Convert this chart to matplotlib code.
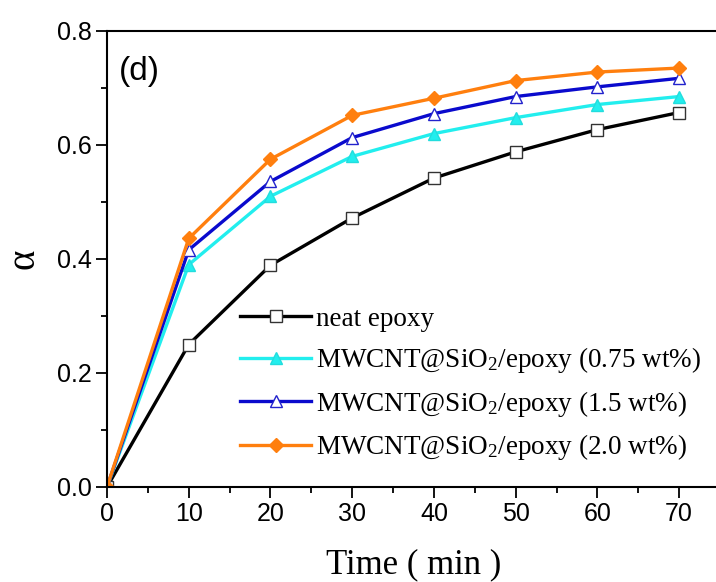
import matplotlib
matplotlib.use("Agg")
import matplotlib.pyplot as plt

plt.rcParams['mathtext.fontset'] = 'custom'
plt.rcParams['mathtext.rm'] = 'Liberation Serif'
plt.rcParams['mathtext.it'] = 'Liberation Serif:italic'

time = [0, 10, 20, 30, 40, 50, 60, 70]
neat = [0.0, 0.250, 0.389, 0.472, 0.542, 0.588, 0.627, 0.657]
w075 = [0.0, 0.390, 0.510, 0.580, 0.620, 0.648, 0.671, 0.685]
w15 = [0.0, 0.416, 0.536, 0.613, 0.655, 0.685, 0.702, 0.717]
w20 = [0.0, 0.436, 0.575, 0.652, 0.682, 0.713, 0.728, 0.735]

labels = ["neat epoxy",
          "MWCNT@SiO$_2$/epoxy (0.75 wt%)",
          "MWCNT@SiO$_2$/epoxy (1.5 wt%)",
          "MWCNT@SiO$_2$/epoxy (2.0 wt%)"]

fig = plt.figure(figsize=(7.16, 5.82), dpi=100)
ax = fig.add_axes([107/716, 1-487/582, (720-107)/716, (487-31)/582])

lw = 2.4
ax.plot(time, neat, color='black', lw=lw, marker='s', ms=8, mfc='white', mec='#333333', mew=1.0, label=labels[0])
ax.plot(time, w075, color='#22EEEE', lw=lw, marker='^', ms=9, mfc='#22EEEE', mec='#22DDDD', label=labels[1])
ax.plot(time, w15, color='#0A0ACD', lw=lw, marker='^', ms=9, mfc='white', mec='#2222CC', mew=1.0, label=labels[2])
ax.plot(time, w20, color='#FF7F0E', lw=lw, marker='D', ms=7.5, mfc='#FF7F0E', mec='#FF7F0E', label=labels[3])

ax.set_xlim(0, 75)
ax.set_ylim(0, 0.8)
ax.set_xticks([0, 10, 20, 30, 40, 50, 60, 70])
ax.set_xticks([5, 15, 25, 35, 45, 55, 65], minor=True)
ax.set_yticks([0.0, 0.2, 0.4, 0.6, 0.8])
ax.set_yticklabels(['0.0', '0.2', '0.4', '0.6', '0.8'])
ax.set_yticks([0.1, 0.3, 0.5, 0.7], minor=True)
ax.tick_params(which='major', direction='out', length=8, width=1.3, labelsize=18, pad=3)
ax.tick_params(which='minor', direction='out', length=4.5, width=1.3)
for lab in ax.get_xticklabels() + ax.get_yticklabels():
    lab.set_fontfamily('Liberation Sans')
for s in ax.spines.values():
    s.set_linewidth(1.5)

ax.set_xlabel("Time ( min )", fontfamily='Liberation Serif', fontsize=25, labelpad=16)
ax.set_ylabel("α", fontfamily='Liberation Serif', fontsize=28, labelpad=10)

ax.text(0.02, 0.912, "(d)", transform=ax.transAxes, fontfamily='Liberation Sans', fontsize=24, va='center')

leg = ax.legend(loc='lower left', bbox_to_anchor=(0.2, 0.03), frameon=False,
                prop={'family': 'Liberation Serif', 'size': 19.5},
                handlelength=2.6, handletextpad=0.2, labelspacing=0.5, borderaxespad=0)

fig.savefig("out.png", dpi=100)
